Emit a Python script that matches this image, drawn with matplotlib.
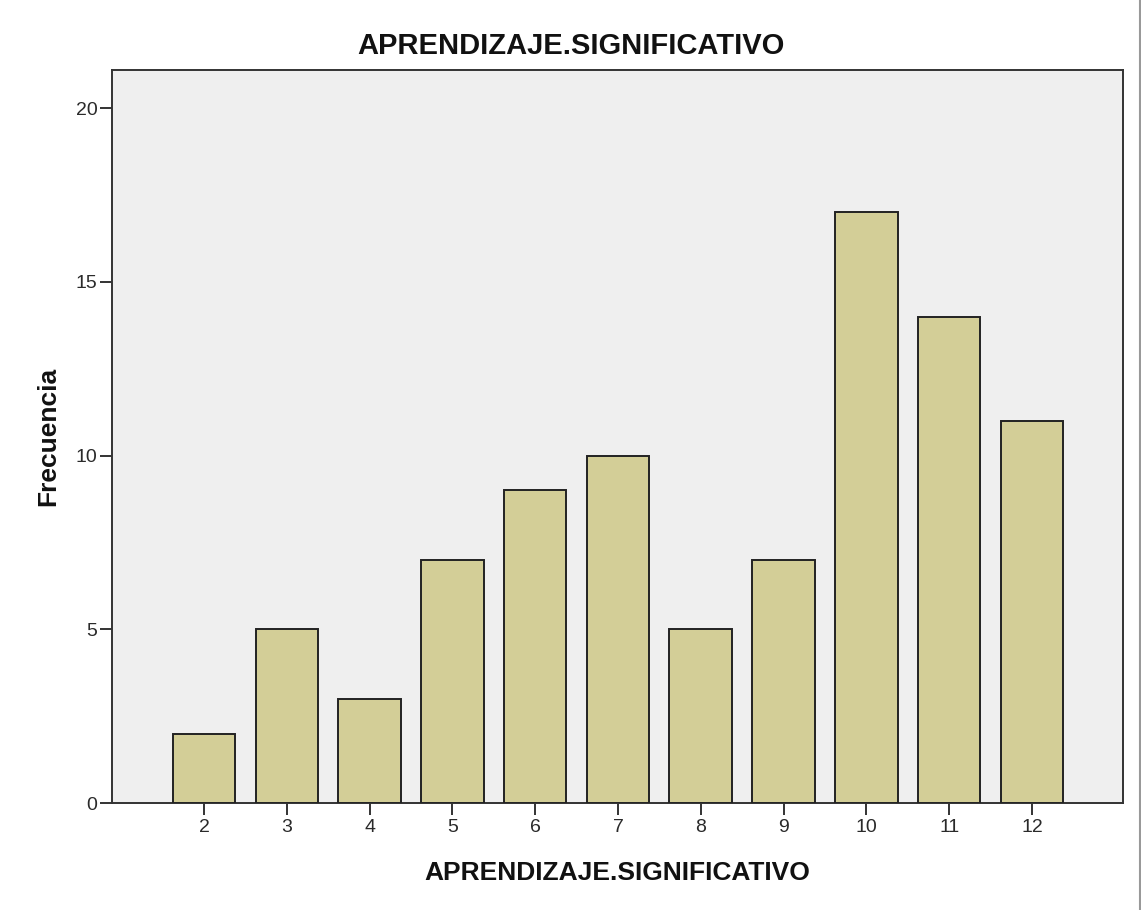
import matplotlib
matplotlib.use("Agg")
import matplotlib.pyplot as plt
from matplotlib.lines import Line2D

categories = [2, 3, 4, 5, 6, 7, 8, 9, 10, 11, 12]
frequencies = [2, 5, 3, 7, 9, 10, 5, 7, 17, 14, 11]
y_ticks = [0, 5, 10, 15, 20]
title = "APRENDIZAJE.SIGNIFICATIVO"
xlabel = "APRENDIZAJE.SIGNIFICATIVO"
ylabel = "Frecuencia"

plt.rcParams['font.family'] = ['Liberation Sans', 'DejaVu Sans']

fig = plt.figure(figsize=(11.41, 9.10), dpi=100)
ax = fig.add_axes([112/1141, 1 - 803/910, (1123-112)/1141, (803-70)/910])
ax.set_facecolor('#EFEFEF')

ax.bar(categories, frequencies, width=0.755, color='#D3CE97',
       edgecolor='#222222', linewidth=1.4, zorder=3)

ax.set_xlim(0.889, 13.1)
ax.set_ylim(0, 21.1)
ax.set_xticks(categories)
ax.set_xticklabels([str(c) for c in categories])
ax.set_yticks(y_ticks)

for side in ['top', 'right', 'left', 'bottom']:
    ax.spines[side].set_color('#333333')
    ax.spines[side].set_linewidth(1.4)

ax.tick_params(axis='both', direction='out', length=8.5, width=1.4,
               color='#333333', labelsize=14, labelcolor='#2a2a2a')
ax.tick_params(axis='y', pad=2)
ax.tick_params(axis='x', pad=3)

ax.set_xlabel(xlabel, fontsize=19, fontweight='bold', labelpad=18, color='#111111')
ax.set_ylabel(ylabel, fontsize=19, fontweight='bold', labelpad=11, color='#111111')

fig.text(0.5, 1 - 46/910, title, ha='center', va='center',
         fontsize=21, fontweight='bold', color='#111111')

fig.add_artist(Line2D([1139.5/1141, 1139.5/1141], [0, 1], color='#999999', linewidth=1.5))

fig.savefig('out.png', dpi=100)
